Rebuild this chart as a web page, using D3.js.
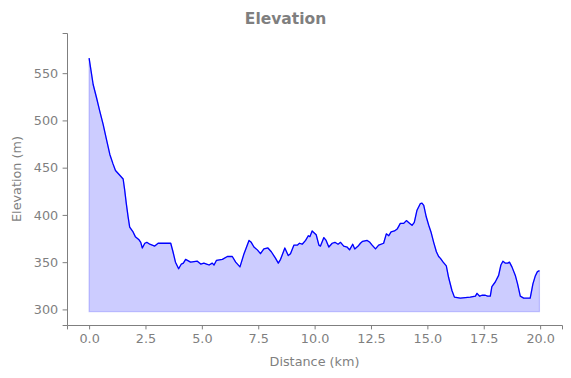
<!DOCTYPE html>
<html>
<head>
<meta charset="utf-8">
<script src="https://cdn.jsdelivr.net/npm/d3@7"></script>
<style>
  body { margin: 0; background: #fff; }
  text { font-family: "DejaVu Sans", sans-serif; fill: #7f7f7f; }
</style>
</head>
<body>
<div id="chart"></div>
<script>
// distance along the route (km)
const distanceKm = [
    0, 0.18, 0.33, 0.47, 0.62, 0.77, 0.92, 1.06, 1.17, 1.36,
    1.51, 1.58, 1.65, 1.73, 1.80, 1.95, 2.05, 2.2, 2.29, 2.36,
    2.47, 2.56, 2.69, 2.91, 3.06, 3.35, 3.62, 3.72, 3.83, 3.97,
    4.09, 4.18, 4.28, 4.5, 4.8, 4.95, 5.09, 5.21, 5.32, 5.46,
    5.54, 5.65, 5.91, 6.13, 6.35, 6.5, 6.69, 6.87, 7.09, 7.19,
    7.31, 7.46, 7.6, 7.75, 7.93, 8.08, 8.27, 8.39, 8.49, 8.68,
    8.83, 8.93, 9.08, 9.23, 9.33, 9.45, 9.6, 9.72, 9.79, 9.89,
    10.07, 10.19, 10.26, 10.41, 10.51, 10.63, 10.78, 10.9, 11.04, 11.15,
    11.29, 11.44, 11.55, 11.69, 11.78, 11.93, 12.03, 12.13, 12.33, 12.45,
    12.55, 12.7, 12.84, 13.06, 13.18, 13.29, 13.39, 13.54, 13.66, 13.8,
    13.95, 14.07, 14.22, 14.32, 14.42, 14.54, 14.69, 14.76, 14.84, 14.95,
    15.06, 15.16, 15.28, 15.4, 15.5, 15.58, 15.7, 15.84, 15.94, 16.09,
    16.2, 16.46, 16.9, 17.13, 17.2, 17.32, 17.42, 17.57, 17.67, 17.79,
    17.86, 18.01, 18.16, 18.26, 18.35, 18.45, 18.56, 18.64, 18.75, 18.9,
    19.0, 19.12, 19.27, 19.56, 19.68, 19.78, 19.88, 19.97
];

// elevation (m)
const elevationM = [
    566, 538, 524, 510, 496, 480, 464, 454, 447, 442,
    438, 426, 412, 398, 387, 382, 377, 374, 371, 365,
    370, 371, 369, 367, 370, 370, 370, 361, 350, 343,
    348, 349, 353, 350, 351, 348, 349, 348, 347, 349,
    347, 352, 353, 356, 356, 350, 345, 359, 373, 371,
    366, 363, 359, 364, 365, 361, 354, 349, 353, 365,
    357, 359, 368, 368, 370, 369, 373, 378, 377, 383,
    379, 368, 367, 376, 373, 366, 370, 371, 369, 371,
    367, 366, 363, 369, 364, 367, 370, 372, 373, 371,
    368, 364, 368, 370, 380, 378, 382, 383, 385, 391,
    391, 394, 391, 389, 392, 405, 412, 412.5, 410, 398,
    389, 382, 371, 361, 356, 354, 350, 346, 334, 320,
    313, 312, 313, 314, 317, 314, 315, 315, 314, 314,
    324, 329, 336, 347, 351, 349, 349, 350, 345, 336,
    327, 314, 312, 312, 327, 335, 340, 341
];

const fillBase = 297.5;
const xTicks = [0, 2.5, 5, 7.5, 10, 12.5, 15, 17.5, 20];
const yTicks = [300, 350, 400, 450, 500, 550];

const W = 571, H = 378;
const margin = { top: 33, right: 9, bottom: 53, left: 67 };
const width = W - margin.left - margin.right;
const height = H - margin.top - margin.bottom;

const data = distanceKm.map((d, i) => ({ km: d, m: elevationM[i] }));

const svg = d3.select("#chart")
    .append("svg")
    .attr("width", W)
    .attr("height", H);

const g = svg.append("g")
    .attr("transform", `translate(${margin.left}, ${margin.top})`);

const x = d3.scaleLinear().domain([-0.98, 20.97]).range([0, width]);
const y = d3.scaleLinear().domain([283.5, 592.5]).range([height, 0]);

// filled area under the profile
g.append("path")
    .datum(data)
    .attr("d", d3.area().x(d => x(d.km)).y0(y(fillBase)).y1(d => y(d.m)))
    .style("fill", "rgb(0,0,255)")
    .style("fill-opacity", 0.2)
    .style("stroke", "rgb(0,0,255)")
    .style("stroke-opacity", 0.2)
    .style("stroke-width", 1.2);

g.append("path")
    .datum(data)
    .attr("d", d3.line().x(d => x(d.km)).y(d => y(d.m)))
    .style("fill", "none")
    .style("stroke", "#0000ff")
    .style("stroke-width", 1.3)
    .style("stroke-linejoin", "round");

// axes
const xAxis = g.append("g")
    .attr("transform", `translate(0, ${height})`)
    .call(d3.axisBottom(x).tickValues(xTicks).tickFormat(d3.format(".1f")).tickSize(4.4).tickPadding(4.4));

const yAxis = g.append("g")
    .call(d3.axisLeft(y).tickValues(yTicks).tickSize(4.4).tickPadding(4.4));

[xAxis, yAxis].forEach(a => {
    a.select(".domain").attr("stroke", "#7f7f7f").attr("stroke-width", 1);
    a.selectAll(".tick line").attr("stroke", "#7f7f7f");
    a.selectAll(".tick text").style("font-size", "12.8px").attr("fill", "#7f7f7f");
});

svg.append("text")
    .attr("x", margin.left + width / 2)
    .attr("y", 366)
    .attr("text-anchor", "middle")
    .style("font-size", "12.8px")
    .text("Distance (km)");

svg.append("text")
    .attr("transform", `translate(21, ${margin.top + height / 2}) rotate(-90)`)
    .attr("text-anchor", "middle")
    .style("font-size", "12.8px")
    .text("Elevation (m)");

svg.append("text")
    .attr("x", W / 2)
    .attr("y", 24)
    .attr("text-anchor", "middle")
    .style("font-size", "15.5px")
    .style("font-weight", "bold")
    .text("Elevation");
</script>
</body>
</html>
